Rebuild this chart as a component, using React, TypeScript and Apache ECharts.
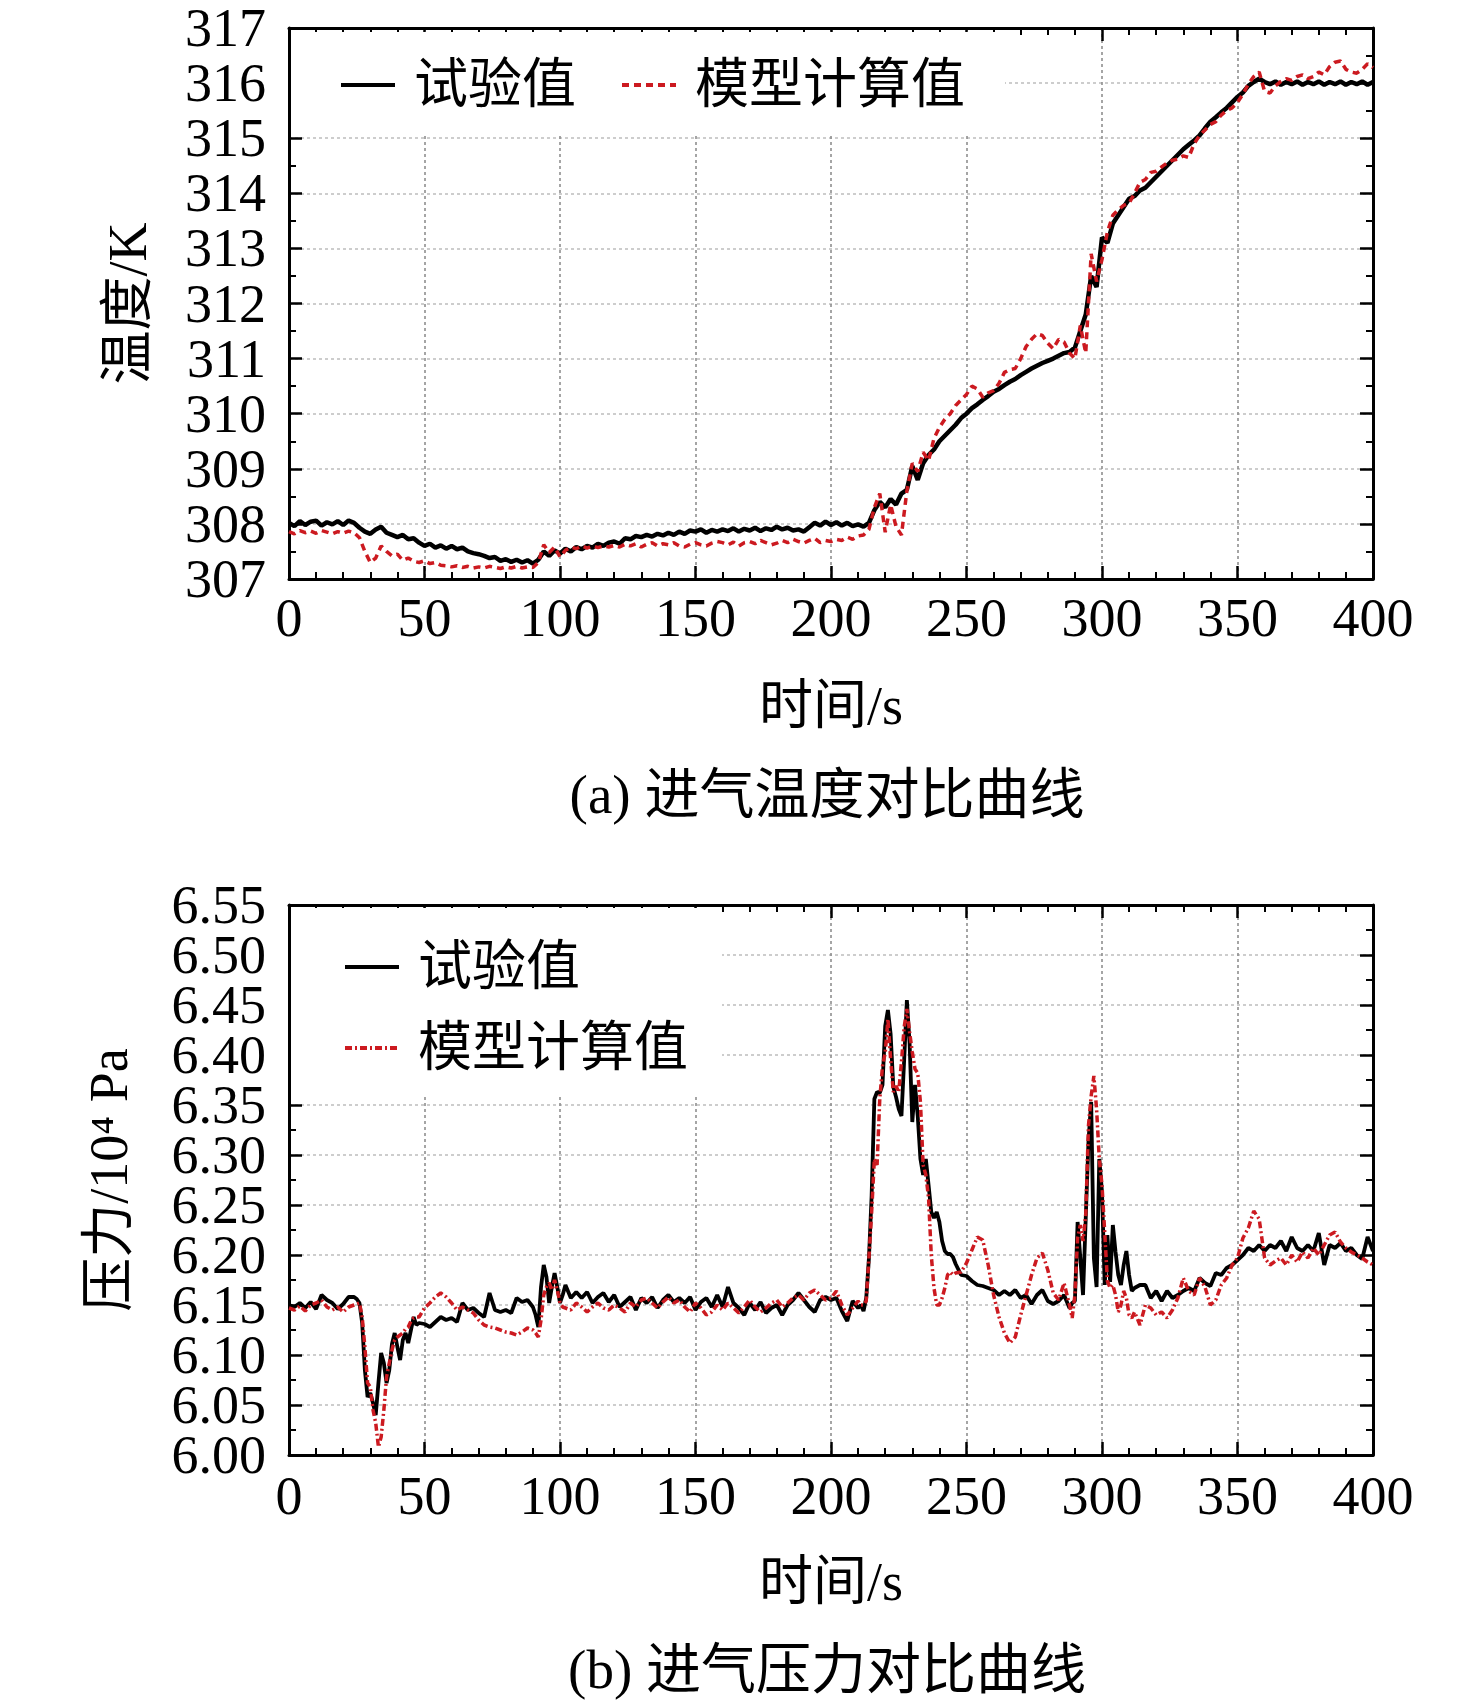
import React, { useEffect, useRef } from "react";
import * as echarts from "echarts";

const seq = (a: number, b: number, step: number) => {
  const r: number[] = [];
  for (let v = a; v <= b; v += step) r.push(v);
  return r;
};

// ---------- (a) intake temperature, sampled every 2 s ----------
const tempTime = seq(0, 400, 2);
const tempExp = [
  308.02, 307.96, 308.05, 307.98, 308.04, 308.06, 307.97, 308.03, 307.99, 308.05,
  307.98, 308.06, 308.02, 307.93, 307.86, 307.82, 307.90, 307.95, 307.84, 307.80,
  307.76, 307.80, 307.72, 307.74, 307.66, 307.60, 307.64, 307.57, 307.61, 307.55,
  307.60, 307.54, 307.57, 307.50, 307.47, 307.45, 307.42, 307.38, 307.40, 307.33,
  307.36, 307.31, 307.35, 307.30, 307.34, 307.28, 307.35, 307.50, 307.42, 307.52,
  307.46, 307.55, 307.50, 307.58, 307.54, 307.60, 307.57, 307.64, 307.60, 307.66,
  307.68, 307.64, 307.74, 307.72, 307.78, 307.76, 307.80, 307.77, 307.82, 307.79,
  307.84, 307.80, 307.86, 307.82, 307.88, 307.86, 307.90, 307.84, 307.89, 307.86,
  307.90, 307.87, 307.92, 307.86, 307.91, 307.88, 307.93, 307.87, 307.92, 307.89,
  307.95, 307.90, 307.93, 307.88, 307.90, 307.86, 307.94, 308.02, 307.97, 308.04,
  307.98, 308.03, 307.97, 308.02, 307.96, 307.99, 307.95, 308.02, 308.25, 308.40,
  308.30, 308.45, 308.35, 308.55, 308.62, 309.05, 308.80, 309.10, 309.25, 309.35,
  309.50, 309.60, 309.70, 309.80, 309.92, 310.00, 310.10, 310.17, 310.25, 310.32,
  310.40, 310.45, 310.52, 310.58, 310.63, 310.70, 310.76, 310.82, 310.87, 310.92,
  310.96, 311.00, 311.05, 311.10, 311.12, 311.20, 311.50, 311.80, 312.50, 312.30,
  313.20, 313.10, 313.45, 313.60, 313.75, 313.90, 313.95, 314.05, 314.10, 314.20,
  314.30, 314.40, 314.50, 314.60, 314.70, 314.80, 314.88, 314.96, 315.05, 315.18,
  315.30, 315.38, 315.47, 315.55, 315.65, 315.75, 315.83, 315.95, 316.02, 316.08,
  316.02, 315.98, 316.03, 315.97, 316.02, 315.98, 316.03, 315.97, 316.02, 315.98,
  316.03, 315.97, 316.02, 315.98, 316.03, 315.97, 316.02, 315.98, 316.03, 315.97,
  316.02,
];
const tempModel = [
  307.86, 307.82, 307.88, 307.84, 307.87, 307.83, 307.88, 307.85, 307.82, 307.86,
  307.83, 307.87, 307.84, 307.75, 307.50, 307.30, 307.38, 307.60, 307.50, 307.42,
  307.45, 307.34, 307.38, 307.32, 307.30, 307.33, 307.28, 307.30, 307.25, 307.24,
  307.22, 307.24, 307.21, 307.23, 307.20, 307.22, 307.20, 307.23, 307.21, 307.19,
  307.22, 307.20, 307.23, 307.20, 307.22, 307.21, 307.30, 307.62, 307.48, 307.58,
  307.40, 307.52, 307.58, 307.55, 307.60, 307.56, 307.60, 307.57, 307.60, 307.58,
  307.61, 307.58, 307.63, 307.60, 307.64, 307.58, 307.63, 307.66, 307.60, 307.64,
  307.62, 307.66, 307.60, 307.58, 307.63, 307.66, 307.62, 307.60, 307.65, 307.68,
  307.66, 307.62, 307.67, 307.60, 307.66, 307.68, 307.64, 307.70, 307.66, 307.62,
  307.65, 307.70, 307.66, 307.72, 307.68, 307.65, 307.70, 307.74, 307.66, 307.70,
  307.68, 307.72, 307.70, 307.76, 307.72, 307.78, 307.80, 307.90, 308.30, 308.55,
  307.85, 308.35, 307.95, 307.80, 308.60, 309.10, 308.95, 309.30, 309.15, 309.55,
  309.75, 309.90, 310.00, 310.15, 310.25, 310.35, 310.50, 310.45, 310.30, 310.38,
  310.42, 310.55, 310.75, 310.80, 310.82, 311.00, 311.22, 311.35, 311.45, 311.42,
  311.28, 311.18, 311.35, 311.30, 311.10, 311.00, 311.60, 311.10, 312.90, 312.40,
  312.80, 313.30, 313.60, 313.70, 313.78, 313.82, 314.00, 314.20, 314.25, 314.38,
  314.40, 314.48, 314.55, 314.60, 314.62, 314.68, 314.65, 314.90, 315.05, 315.15,
  315.25, 315.30, 315.42, 315.50, 315.55, 315.65, 315.80, 315.98, 316.12, 316.20,
  315.85, 315.82, 315.95, 316.03, 316.08, 316.05, 316.12, 316.15, 316.08, 316.12,
  316.20, 316.15, 316.30, 316.38, 316.40, 316.25, 316.20, 316.18, 316.25, 316.35,
  316.28,
];

// ---------- (b) intake pressure, sample times (denser around transients) ----------
const presTime = [
  ...seq(0, 24, 2),
  ...seq(25, 47, 1),
  ...seq(48, 90, 2),
  ...seq(91, 101, 1),
  ...seq(102, 210, 2),
  ...seq(211, 245, 1),
  ...seq(246, 288, 2),
  ...seq(289, 312, 1),
  ...seq(314, 400, 2),
];
const presExp = [
  // 0..24
  6.150, 6.148, 6.152, 6.147, 6.153, 6.146, 6.160, 6.155, 6.152, 6.146, 6.151, 6.158, 6.158,
  // 25..47
  6.156, 6.152, 6.132, 6.085, 6.058, 6.062, 6.052, 6.040, 6.072, 6.102, 6.092, 6.072,
  6.085, 6.111, 6.122, 6.108, 6.095, 6.115, 6.122, 6.112, 6.125, 6.138, 6.130,
  // 48..90
  6.132, 6.131, 6.128, 6.133, 6.138, 6.135, 6.137, 6.133, 6.152, 6.145, 6.147,
  6.142, 6.138, 6.162, 6.145, 6.143, 6.145, 6.142, 6.157, 6.153, 6.155, 6.148,
  // 91..101
  6.140, 6.128, 6.168, 6.190, 6.178, 6.152, 6.168, 6.182, 6.168, 6.152, 6.160,
  // 102..210
  6.170, 6.157, 6.163, 6.157, 6.163, 6.152, 6.158, 6.162, 6.153, 6.160,
  6.148, 6.153, 6.158, 6.145, 6.157, 6.152, 6.158, 6.147, 6.155, 6.160,
  6.153, 6.157, 6.152, 6.158, 6.145, 6.153, 6.157, 6.148, 6.160, 6.148,
  6.168, 6.152, 6.147, 6.140, 6.152, 6.145, 6.153, 6.142, 6.147, 6.150,
  6.140, 6.150, 6.155, 6.162, 6.155, 6.148, 6.143, 6.155, 6.158, 6.155,
  6.157, 6.144, 6.134, 6.154, 6.147,
  // 211..245
  6.150, 6.144, 6.157, 6.197, 6.260, 6.356, 6.363, 6.362, 6.370, 6.429,
  6.445, 6.421, 6.368, 6.358, 6.346, 6.339, 6.395, 6.455, 6.412, 6.333,
  6.370, 6.339, 6.296, 6.280, 6.296, 6.270, 6.243, 6.237, 6.243, 6.233,
  6.214, 6.204, 6.201, 6.201, 6.198,
  // 246..288
  6.191, 6.180, 6.179, 6.174, 6.170, 6.169, 6.167, 6.165, 6.160, 6.164,
  6.160, 6.165, 6.157, 6.160, 6.151, 6.160, 6.165, 6.154, 6.151, 6.154,
  6.160, 6.147,
  // 289..312
  6.152, 6.154, 6.233, 6.197, 6.160, 6.237, 6.313, 6.353, 6.197, 6.168,
  6.296, 6.263, 6.170, 6.220, 6.173, 6.230, 6.203, 6.180, 6.170, 6.190,
  6.204, 6.180, 6.164, 6.167,
  // 314..400
  6.170, 6.170, 6.157, 6.164, 6.154, 6.164, 6.157, 6.160, 6.164, 6.167,
  6.164, 6.177, 6.172, 6.169, 6.182, 6.180, 6.187, 6.190, 6.195, 6.200,
  6.207, 6.204, 6.210, 6.204, 6.210, 6.207, 6.214, 6.204, 6.218, 6.207,
  6.204, 6.210, 6.204, 6.222, 6.190, 6.210, 6.207, 6.212, 6.204, 6.207,
  6.200, 6.196, 6.218, 6.204,
];
const presModel = [
  // 0..24
  6.147, 6.145, 6.149, 6.144, 6.150, 6.152, 6.155, 6.148, 6.145, 6.148, 6.143, 6.148, 6.150,
  // 25..47
  6.151, 6.152, 6.138, 6.108, 6.072, 6.068, 6.045, 6.032, 6.008, 6.018, 6.045, 6.078,
  6.092, 6.105, 6.115, 6.118, 6.120, 6.122, 6.126, 6.128, 6.134, 6.137, 6.138,
  // 48..90
  6.138, 6.147, 6.152, 6.158, 6.162, 6.158, 6.152, 6.145, 6.148, 6.145, 6.142,
  6.135, 6.130, 6.128, 6.127, 6.125, 6.123, 6.122, 6.120, 6.123, 6.127, 6.125,
  // 91..101
  6.122, 6.118, 6.135, 6.160, 6.168, 6.172, 6.165, 6.175, 6.165, 6.152, 6.148,
  // 102..210
  6.147, 6.145, 6.152, 6.148, 6.143, 6.148, 6.152, 6.147, 6.145, 6.150,
  6.147, 6.143, 6.152, 6.148, 6.155, 6.157, 6.152, 6.147, 6.153, 6.158,
  6.152, 6.155, 6.148, 6.143, 6.152, 6.147, 6.140, 6.143, 6.150, 6.145,
  6.152, 6.147, 6.142, 6.148, 6.155, 6.148, 6.143, 6.147, 6.152, 6.155,
  6.148, 6.152, 6.157, 6.160, 6.155, 6.162, 6.165, 6.160, 6.155, 6.157,
  6.164, 6.150, 6.140, 6.147, 6.154,
  // 211..245
  6.150, 6.150, 6.154, 6.197, 6.243, 6.296, 6.290, 6.356, 6.389, 6.402,
  6.436, 6.396, 6.363, 6.369, 6.363, 6.393, 6.428, 6.446, 6.423, 6.403,
  6.386, 6.382, 6.353, 6.290, 6.280, 6.257, 6.200, 6.167, 6.150, 6.150,
  6.157, 6.167, 6.180, 6.183, 6.180,
  // 246..288
  6.182, 6.183, 6.192, 6.205, 6.218, 6.215, 6.190, 6.160, 6.138, 6.122,
  6.112, 6.118, 6.140, 6.160, 6.180, 6.197, 6.202, 6.185, 6.162, 6.155,
  6.172, 6.150,
  // 289..312
  6.137, 6.160, 6.217, 6.230, 6.214, 6.240, 6.329, 6.359, 6.379, 6.346,
  6.296, 6.270, 6.223, 6.174, 6.167, 6.170, 6.160, 6.143, 6.150, 6.164,
  6.157, 6.140, 6.137, 6.143,
  // 314..400
  6.130, 6.150, 6.147, 6.140, 6.143, 6.137, 6.145, 6.157, 6.177, 6.164,
  6.160, 6.177, 6.168, 6.150, 6.155, 6.170, 6.177, 6.190, 6.197, 6.217,
  6.227, 6.244, 6.236, 6.197, 6.190, 6.194, 6.197, 6.190, 6.200, 6.193,
  6.203, 6.197, 6.207, 6.200, 6.210, 6.220, 6.223, 6.213, 6.207, 6.203,
  6.200, 6.197, 6.193, 6.190,
];

const xTicks = { min: 0, max: 400, interval: 50 };
const tempTicks = { min: 307, max: 317, interval: 1 };
const presTicks = { min: 6.0, max: 6.55, interval: 0.05 };
// pressure tick labels (split in two alternating sets so none is auto-hidden)
const presLabelsA = [6.0, 6.1, 6.2, 6.3, 6.4, 6.5];
const presLabelsB = [6.05, 6.15, 6.25, 6.35, 6.45, 6.55];

const seriesNames = ["试验值", "模型计算值"];
const captions = ["(a) 进气温度对比曲线", "(b) 进气压力对比曲线"];
const axisNames = { time: "时间/s", temp: "温度/K", pres: "压力/10⁴ Pa" };

const FONT = "'Liberation Serif', 'Times New Roman', 'Noto Sans CJK SC', serif";
const BLACK = "#000000";
const RED = "#cc1a20";

const zip = (xs: number[], ys: number[]) => {
  const n = Math.min(xs.length, ys.length);
  const r: number[][] = [];
  for (let i = 0; i < n; i++) r.push([xs[i], ys[i]]);
  return r;
};

export default function App() {
  const ref = useRef<HTMLDivElement>(null);

  useEffect(() => {
    if (!ref.current) return;
    const chart = echarts.init(ref.current, undefined, { renderer: "svg" });

    const frameLine = { show: true, onZero: false, lineStyle: { color: BLACK, width: 3 } };
    const tick = { show: true, inside: true, length: 13, lineStyle: { color: BLACK, width: 2.5 } };
    const labelStyle = { color: BLACK, fontFamily: FONT, fontSize: 54 };

    const makeX = (gridIndex: number, bottom: boolean, margin: number) => ({
      type: "value",
      gridIndex,
      position: bottom ? "bottom" : "top",
      ...xTicks,
      axisLine: frameLine,
      axisTick: tick,
      minorTick: { show: true, splitNumber: 5, length: 7, lineStyle: { color: BLACK, width: 2 } },
      axisLabel: bottom
        ? { show: true, margin, showMinLabel: true, showMaxLabel: true, lineHeight: 50, ...labelStyle }
        : { show: false },
      splitLine: bottom
        ? { show: true, lineStyle: { color: "#8f8f8f", width: 1.6, type: [3, 3] } }
        : { show: false },
      name: bottom ? axisNames.time : "",
      nameLocation: "middle",
      nameGap: 100,
      nameTextStyle: { ...labelStyle },
    });

    const makeY = (
      gridIndex: number,
      left: boolean,
      ticks: any,
      name: string,
      nameGap: number,
      lineHeight: number,
      fmt: (v: number) => string,
      customValues?: number[]
    ) => ({
      type: "value",
      gridIndex,
      position: left ? "left" : "right",
      ...ticks,
      axisLine: frameLine,
      axisTick: tick,
      minorTick: { show: true, splitNumber: 2, length: 7, lineStyle: { color: BLACK, width: 2 } },
      axisLabel: left
        ? {
            show: true,
            margin: 23,
            formatter: fmt,
            showMinLabel: true,
            showMaxLabel: true,
            hideOverlap: false,
            lineHeight,
            ...(customValues ? { customValues } : {}),
            ...labelStyle,
          }
        : { show: false },
      splitLine: left
        ? { show: true, lineStyle: { color: "#bdbdbd", width: 1.6, type: [3, 3] } }
        : { show: false },
      name: left ? name : "",
      nameLocation: "middle",
      nameGap,
      nameTextStyle: { ...labelStyle },
    });

    // label-only companion axis for the second set of pressure labels
    const presLabelAxis = {
      type: "value",
      gridIndex: 1,
      position: "left",
      ...presTicks,
      axisLine: { show: false },
      axisTick: { show: false },
      minorTick: { show: false },
      splitLine: { show: false },
      axisLabel: {
        show: true,
        margin: 23,
        formatter: (v: number) => v.toFixed(2),
        customValues: presLabelsB,
        showMinLabel: true,
        showMaxLabel: true,
        hideOverlap: false,
        lineHeight: 44,
        ...labelStyle,
      },
    };

    const legendText = { color: BLACK, fontFamily: FONT, fontSize: 54, padding: [0, 0, 0, 14] };
    const hiddenDot = { color: "transparent", borderWidth: 0, opacity: 0 };

    const option: any = {
      animation: false,
      backgroundColor: "#ffffff",
      grid: [
        { left: 289, top: 28, width: 1084, height: 551, outerBoundsMode: "none" },
        { left: 289, top: 905, width: 1084, height: 550, outerBoundsMode: "none" },
      ],
      xAxis: [makeX(0, true, 14), makeX(0, false, 0), makeX(1, true, 16), makeX(1, false, 0)],
      yAxis: [
        makeY(0, true, tempTicks, axisNames.temp, 134, 50, (v: number) => String(Math.round(v))),
        makeY(0, false, tempTicks, "", 0, 50, (v: number) => String(v)),
        makeY(1, true, presTicks, axisNames.pres, 153, 44, (v: number) => v.toFixed(2), presLabelsA),
        makeY(1, false, presTicks, "", 0, 44, (v: number) => String(v)),
        presLabelAxis,
      ],
      legend: [
        {
          orient: "horizontal",
          left: 291,
          top: 32,
          padding: [26, 40, 24, 48],
          itemGap: 44,
          itemWidth: 54,
          itemHeight: 14,
          backgroundColor: "#ffffff",
          textStyle: legendText,
          data: [
            { name: seriesNames[0], itemStyle: hiddenDot, lineStyle: { color: BLACK, width: 4, type: "solid" } },
            { name: seriesNames[1], itemStyle: hiddenDot, lineStyle: { color: RED, width: 4, type: [7, 5] } },
          ],
        },
        {
          orient: "vertical",
          left: 291,
          top: 908,
          padding: [32, 34, 21, 52],
          itemGap: 27,
          itemWidth: 54,
          itemHeight: 14,
          backgroundColor: "#ffffff",
          textStyle: legendText,
          data: [
            { name: seriesNames[0], itemStyle: hiddenDot, lineStyle: { color: BLACK, width: 4, type: "solid" } },
            { name: seriesNames[1], itemStyle: hiddenDot, lineStyle: { color: RED, width: 4, type: [7, 3, 2, 3] } },
          ],
        },
      ],
      series: [
        {
          name: seriesNames[0],
          type: "line",
          xAxisIndex: 0,
          yAxisIndex: 0,
          symbol: "none",
          showSymbol: false,
          data: zip(tempTime, tempExp),
          lineStyle: { color: BLACK, width: 4.5 },
          itemStyle: { color: BLACK },
          z: 3,
        },
        {
          name: seriesNames[1],
          type: "line",
          xAxisIndex: 0,
          yAxisIndex: 0,
          symbol: "none",
          showSymbol: false,
          data: zip(tempTime, tempModel),
          lineStyle: { color: RED, width: 3.5, type: [7, 5] },
          itemStyle: { color: RED },
          z: 4,
        },
        {
          name: seriesNames[0],
          type: "line",
          xAxisIndex: 2,
          yAxisIndex: 2,
          symbol: "none",
          showSymbol: false,
          data: zip(presTime, presExp),
          lineStyle: { color: BLACK, width: 3.8 },
          itemStyle: { color: BLACK },
          z: 3,
        },
        {
          name: seriesNames[1],
          type: "line",
          xAxisIndex: 2,
          yAxisIndex: 2,
          symbol: "none",
          showSymbol: false,
          data: zip(presTime, presModel),
          lineStyle: { color: RED, width: 3.5, type: [7, 3, 2, 3] },
          itemStyle: { color: RED },
          z: 4,
        },
      ],
      graphic: [
        {
          type: "text",
          x: 827,
          y: 794,
          style: {
            text: captions[0],
            fill: BLACK,
            fontFamily: FONT,
            fontSize: 55,
            textAlign: "center",
            textVerticalAlign: "middle",
          },
        },
        {
          type: "text",
          x: 827,
          y: 1669,
          style: {
            text: captions[1],
            fill: BLACK,
            fontFamily: FONT,
            fontSize: 55,
            textAlign: "center",
            textVerticalAlign: "middle",
          },
        },
      ],
    };

    chart.setOption(option);
    return () => chart.dispose();
  }, []);

  return (
    <div
      ref={ref}
      style={{ position: "absolute", left: 0, top: 0, width: 1476, height: 1708, background: "#fff" }}
    />
  );
}
